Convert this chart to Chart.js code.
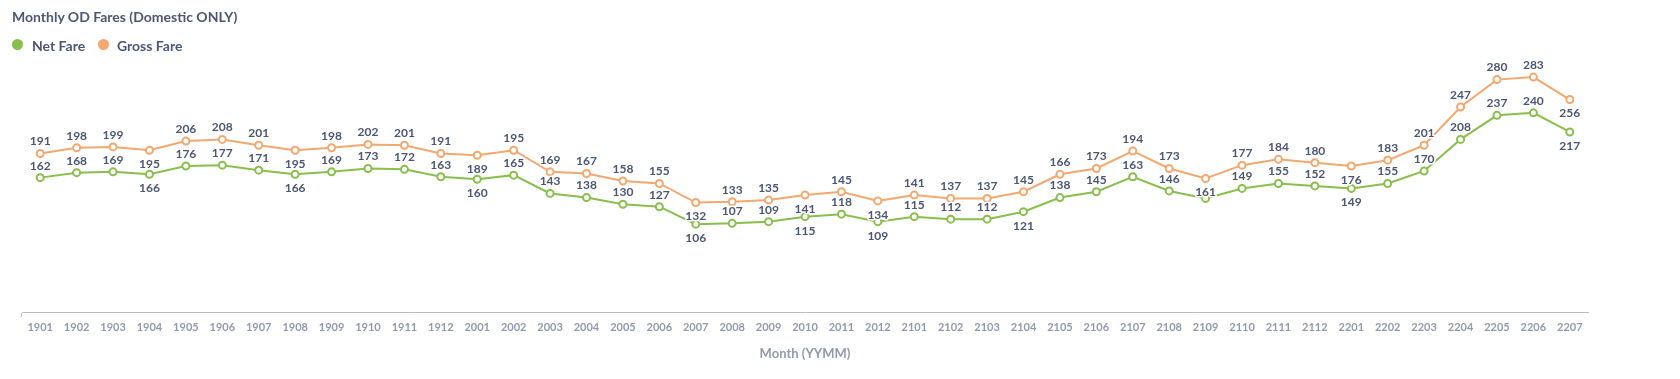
<!DOCTYPE html>
<html>
<head>
<meta charset="utf-8">
<script src="https://cdn.jsdelivr.net/npm/chart.js@4"></script>
<style>
  html, body { margin: 0; padding: 0; background: #fff; }
  #wrap { position: relative; width: 1680px; height: 379px; overflow: hidden; }
  #myChart { position: absolute; left: 0; top: 0; }
  .title { position: absolute; left: 12px; top: 8px; font: 700 14px Lato, sans-serif; color: #4c5773; }
  .legend { position: absolute; top: 37px; left: 12px; font: 700 14px Lato, sans-serif; color: #4c5773; }
  .legend span { position: absolute; white-space: nowrap; }
  .dot { display: inline-block; width: 11px; height: 11px; border-radius: 50%; position: absolute; top: 2px; }
</style>
</head>
<body>
<div id="wrap">
  <canvas id="myChart" width="1680" height="379"></canvas>
  <div class="title">Monthly OD Fares (Domestic ONLY)</div>
  <div class="legend">
    <span style="left:0"><i class="dot" style="background:#88bf4d;left:0"></i><b style="margin-left:20px;font-weight:700">Net Fare</b></span>
    <span style="left:86px"><i class="dot" style="background:#f2a86f;left:0"></i><b style="margin-left:19px;font-weight:700">Gross Fare</b></span>
  </div>
</div>
<script>
const months = ['1901','1902','1903','1904','1905','1906','1907','1908','1909','1910','1911','1912',
  '2001','2002','2003','2004','2005','2006','2007','2008','2009','2010','2011','2012',
  '2101','2102','2103','2104','2105','2106','2107','2108','2109','2110','2111','2112',
  '2201','2202','2203','2204','2205','2206','2207'];

const netFare = [162,168,169,166,176,177,171,166,169,173,172,163,
  160,165,143,138,130,127,106,107,109,115,118,109,
  115,112,112,121,138,145,163,146,137,149,155,152,
  149,155,170,208,237,240,217];

const grossFare = [191,198,199,195,206,208,201,195,198,202,201,191,
  189,195,169,167,158,155,132,133,135,141,145,134,
  141,137,137,145,166,173,194,173,161,177,184,180,
  176,183,201,247,280,283,256];

// where the value label sits under the point instead of over it
const netBelow = ['1904','1908','2001','2007','2010','2012','2104','2201','2207'];
const grossBelow = ['1904','1908','2001','2007','2010','2012','2109','2201','2207'];
// labels dropped because they collide
const netHidden = ['2109'];

const green = '#88bf4d';
const orange = '#f2a86f';

const valueLabels = {
  id: 'valueLabels',
  afterDatasetsDraw(chart) {
    const c = chart.ctx;
    c.save();
    c.font = '700 12px Lato, sans-serif';
    c.textAlign = 'center';
    c.textBaseline = 'middle';
    c.lineJoin = 'round';
    chart.data.datasets.forEach((ds, di) => {
      const meta = chart.getDatasetMeta(di);
      meta.data.forEach((pt, i) => {
        const m = months[i];
        if (ds.hidden_labels.includes(m)) return;
        const below = ds.below.includes(m);
        const y = below ? pt.y + 14 : pt.y - 12;
        const txt = String(ds.data[i]);
        c.lineWidth = 3;
        c.strokeStyle = '#fff';
        c.strokeText(txt, pt.x, y);
        c.fillStyle = '#4c5773';
        c.fillText(txt, pt.x, y);
      });
    });
    c.restore();
  }
};

const ctx = document.getElementById('myChart');

new Chart(ctx, {
  type: 'line',
  data: {
    labels: months,
    datasets: [
      {
        label: 'Net Fare',
        data: netFare,
        borderColor: green,
        backgroundColor: '#fff',
        pointBorderColor: green,
        pointBackgroundColor: '#fff',
        borderWidth: 2,
        pointRadius: 3.5,
        pointBorderWidth: 2,
        tension: 0,
        below: netBelow,
        hidden_labels: netHidden
      },
      {
        label: 'Gross Fare',
        data: grossFare,
        borderColor: orange,
        backgroundColor: '#fff',
        pointBorderColor: orange,
        pointBackgroundColor: '#fff',
        borderWidth: 2,
        pointRadius: 3.5,
        pointBorderWidth: 2,
        tension: 0,
        below: grossBelow,
        hidden_labels: []
      }
    ]
  },
  options: {
    responsive: false,
    animation: false,
    layout: { padding: { left: 22, right: 92, top: 63, bottom: 10 } },
    plugins: {
      legend: { display: false },
      title: { display: false },
      tooltip: { enabled: false }
    },
    scales: {
      x: {
        offset: true,
        grid: {
          offset: true,
          drawOnChartArea: false,
          drawTicks: true,
          tickLength: 5,
          color: (c) => (c.index === 0 || c.index === months.length) ? '#b8bbc4' : 'rgba(0,0,0,0)'
        },
        border: { display: true, color: '#b8bbc4', width: 1 },
        ticks: {
          autoSkip: false,
          maxRotation: 0,
          padding: 4,
          color: '#949aab',
          font: { family: 'Lato', size: 11, weight: 'bold' }
        },
        title: {
          display: true,
          text: 'Month (YYMM)',
          color: '#949aab',
          font: { family: 'Lato', size: 13, weight: 'bold' },
          padding: { top: 8, bottom: 7 }
        }
      },
      y: {
        display: false,
        min: 0,
        max: 300
      }
    }
  },
  plugins: [valueLabels]
});
</script>
</body>
</html>
